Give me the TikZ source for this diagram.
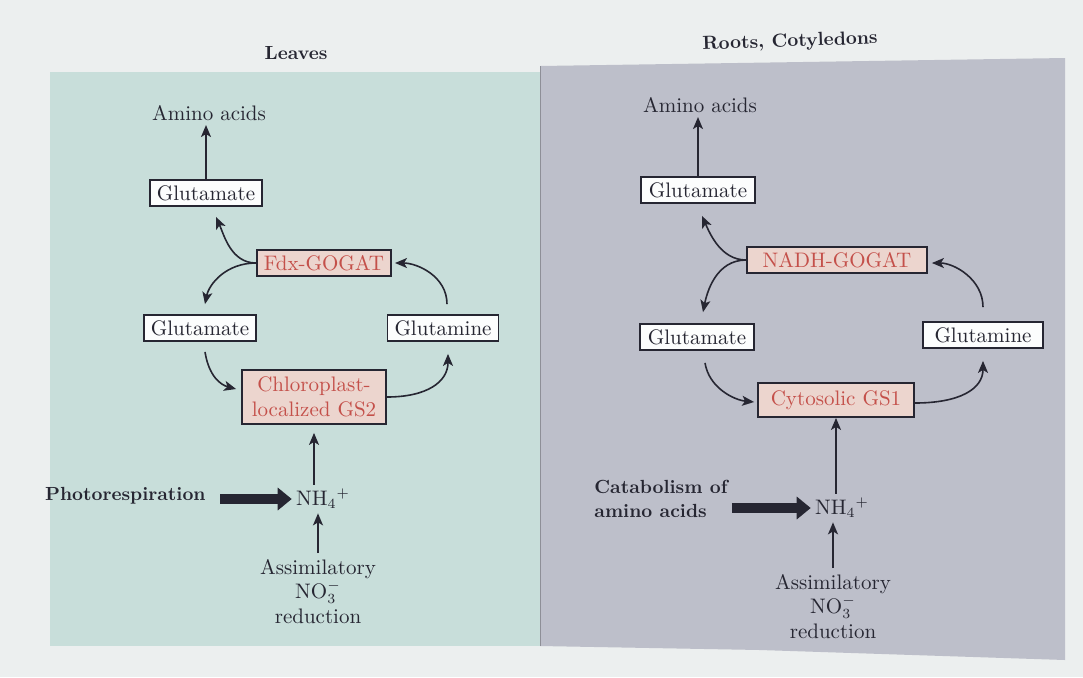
\documentclass[tikz,border=0pt]{standalone}
\usepackage{amsmath,amssymb}
\usepackage{tikz}
\usetikzlibrary{arrows.meta,calc}

\definecolor{pagebg}{RGB}{236,239,239}
\definecolor{leafbg}{RGB}{200,222,218}
\definecolor{rootbg}{RGB}{189,191,202}
\definecolor{enzfill}{RGB}{236,213,206}
\definecolor{enztext}{RGB}{196,80,74}
\definecolor{ink}{RGB}{38,38,50}

\tikzset{
  metab/.style={draw=ink,line width=0.9pt,fill=white!94!leafbg,text=ink,
    font=\fontsize{10.5}{12.5}\selectfont,
    inner xsep=3.5pt,inner ysep=2pt,minimum height=13pt},
  enzyme/.style={metab,fill=enzfill,text=enztext,align=center},
  label/.style={text=ink,inner sep=2pt,align=center,font=\fontsize{10.5}{12.2}\selectfont},
  heavy/.style={label,font=\fontsize{9.5}{12}\selectfont\bfseries},
  flow/.style={draw=ink,line width=0.8pt,-{Stealth[length=6pt,width=5pt,inset=1.5pt]}},
  feed/.style={draw=ink,line width=5pt,-{Triangle[length=7pt,width=11pt]}}
}

\begin{document}
\begin{tikzpicture}[x=0.5pt,y=-0.5pt] % GS/GOGAT cycle, leaves vs roots
        \fill[pagebg] (0,0) rectangle (1083,677);
        \fill[leafbg] (50,72) rectangle (540,646);
        \fill[rootbg] (540,66)--(1065,58)--(1065,660)--(760,650)--(540,646)--cycle;
        \draw[rootbg!75!black,line width=0.3pt] (540,66)--(540,646);

        \node[label,font=\fontsize{9.5}{11}\selectfont\bfseries] (titleL) at (296,53) {Leaves};
        \node[label,font=\fontsize{9.5}{11}\selectfont\bfseries,rotate=2] (titleR) at (790,42) {Roots, Cotyledons};

        % leaves
        \node[label] (aminoL) at (209,113) {Amino acids};
        \node[metab,minimum width=54pt] (gluTopL) at (206,193) {Glutamate};
        \node[enzyme,minimum width=67pt] (gogatL) at (324,263) {Fdx-GOGAT};
        \node[metab,minimum width=55pt] (gluL) at (200,328) {Glutamate};
        \node[metab,minimum width=55pt] (glnL) at (443,328) {Glutamine};
        \node[enzyme,minimum width=72pt,minimum height=27pt] (gs2L) at (314,397) {Chloroplast-\\localized GS2};
        \node[label] (nh4L) at (323,499) {NH$_4{}^{+}$};
        \node[heavy,anchor=east] (photoL) at (210,496) {Photorespiration};
        \node[label,anchor=north] (assimL) at (318,555) {Assimilatory\\NO$_3^-$\\reduction};

        \draw[flow] (gluTopL.north) -- (gluTopL.north |- aminoL.south);
        \draw[flow] (gogatL.west) .. controls +(-25,0) and +(8,18) .. ($(gluTopL.south)+(10,10)$);
        \draw[flow] (gogatL.west) .. controls +(-30,0) and +(4,-20) .. ($(gluL.north)+(5,-10)$);
        \draw[flow] ($(glnL.north)+(4,-10)$) .. controls +(0,-28) and +(22,0) .. ($(gogatL.east)+(3,0)$);
        \draw[flow] ($(gluL.south)+(5,10)$) .. controls +(4,25) and +(-15,-4) .. ($(gs2L.west)+(-5,-8)$);
        \draw[flow] ($(gs2L.east)+(0,0)$) .. controls +(40,0) and +(0,28) .. ($(glnL.south)+(5,12)$);
        \draw[flow] (gs2L.south |- nh4L.north) -- ($(gs2L.south)+(0,8)$);
        \draw[flow] ($(assimL.north)+(0,-2)$) -- (assimL.north |- nh4L.south);
        \draw[feed] ($(photoL.east |- nh4L.west)+(10,0)$) -- (nh4L.west);

        % roots, cotyledons
        \node[label] (aminoR) at (700,105) {Amino acids};
        \node[metab,minimum width=57pt] (gluTopR) at (698,190) {Glutamate};
        \node[enzyme,minimum width=90pt] (gogatR) at (837,260) {NADH-GOGAT};
        \node[metab,minimum width=57pt] (gluR) at (697,337) {Glutamate};
        \node[metab,minimum width=60pt] (glnR) at (983,335) {Glutamine};
        \node[enzyme,minimum width=78pt,minimum height=17pt] (gs1R) at (836,400) {Cytosolic GS1};
        \node[label] (nh4R) at (842,508) {NH$_4{}^{+}$};
        \node[heavy,align=left,anchor=west] (catabR) at (590,499) {Catabolism of\\amino acids};
        \node[label,anchor=north] (assimR) at (833,570) {Assimilatory\\NO$_3^-$\\reduction};

        \draw[flow] (gluTopR.north) -- (gluTopR.north |- aminoR.south);
        \draw[flow] (gogatR.west) .. controls +(-25,0) and +(8,18) .. ($(gluTopR.south)+(4,12)$);
        \draw[flow] (gogatR.west) .. controls +(-30,0) and +(4,-20) .. ($(gluR.north)+(6,-11)$);
        \draw[flow] ($(glnR.north)+(0,-14)$) .. controls +(0,-28) and +(22,0) .. ($(gogatR.east)+(4,3)$);
        \draw[flow] ($(gluR.south)+(8,12)$) .. controls +(4,25) and +(-20,-2) .. ($(gs1R.west)+(-3,2)$);
        \draw[flow] ($(gs1R.east)+(0,3)$) .. controls +(45,0) and +(0,28) .. ($(glnR.south)+(0,12)$);
        \draw[flow] (gs1R.south |- nh4R.north) -- (gs1R.south);
        \draw[flow] ($(assimR.north)+(0,-2)$) -- (assimR.north |- nh4R.south);
        \draw[feed] (catabR.east |- nh4R.west) -- (nh4R.west);
\end{tikzpicture}
\end{document}
